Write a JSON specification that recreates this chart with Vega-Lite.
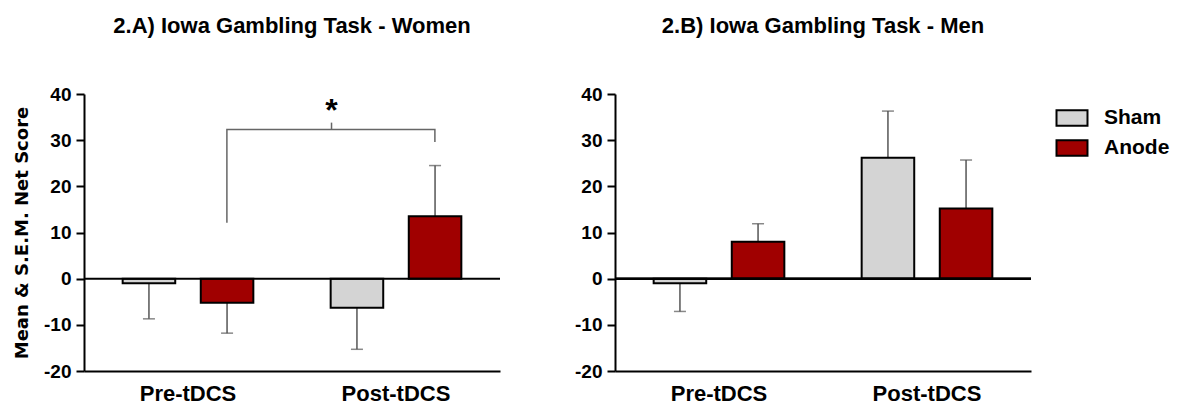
{
  "$schema": "https://vega.github.io/schema/vega-lite/v6.json",
  "background": "white",
  "padding": {"left": 13, "top": 15, "right": 0, "bottom": 0},
  "spacing": 73,
  "config": {
    "view": {"stroke": null},
    "font": "Liberation Sans",
    "axis": {"grid": false, "domainColor": "black", "domainWidth": 2, "tickColor": "black", "tickWidth": 2, "labelColor": "black", "labelFont": "Liberation Sans", "labelFontWeight": "bold", "titleColor": "black", "titleFont": "Liberation Sans", "titleFontWeight": "bold"},
    "title": {"font": "Liberation Sans", "fontWeight": "bold", "fontSize": 22, "color": "black", "frame": "group", "anchor": "middle", "offset": 47}
  },
  "resolve": {"scale": {"color": "independent"}, "legend": {"color": "independent"}},
  "hconcat": [
    {
      "width": 416,
      "height": 277,
      "title": {"text": "2.A) Iowa Gambling Task - Women"},
      "layer": [
        {
          "data": {"values": [
            {"phase": "Pre-tDCS", "group": "Sham", "mean": -1.0, "err": -8.7},
            {"phase": "Pre-tDCS", "group": "Anode", "mean": -5.2, "err": -11.8},
            {"phase": "Post-tDCS", "group": "Sham", "mean": -6.3, "err": -15.3},
            {"phase": "Post-tDCS", "group": "Anode", "mean": 13.5, "err": 24.5}
          ]},
          "layer": [
            {
              "mark": {"type": "rule", "color": "#555555", "strokeWidth": 1.5},
              "encoding": {
                "x": {"field": "phase", "type": "nominal", "sort": ["Pre-tDCS", "Post-tDCS"], "scale": {"domain": ["Pre-tDCS", "Post-tDCS"], "paddingInner": 0, "paddingOuter": 0}, "axis": {"title": null, "labelAngle": 0, "labelFontSize": 22, "labelPadding": 12, "ticks": false}},
                "xOffset": {"field": "group", "type": "nominal", "sort": ["Sham", "Anode"], "scale": {"domain": ["Sham", "Anode"], "paddingInner": 0.327, "paddingOuter": 0.495}},
                "y": {"field": "mean", "type": "quantitative", "scale": {"domain": [-20, 40], "nice": false, "zero": false}, "axis": {"values": [-20, -10, 0, 10, 20, 30, 40], "labelExpr": "datum.value + ''", "title": "Mean & S.E.M. Net Score", "titleFont": "DejaVu Sans", "titleFontSize": 18, "titlePadding": 12, "labelFontSize": 19, "tickSize": 8, "labelPadding": 5}},
                "y2": {"field": "err"}
              }
            },
            {
              "mark": {"type": "tick", "color": "#555555", "size": 12, "thickness": 1.5},
              "encoding": {
                "x": {"field": "phase", "type": "nominal", "sort": ["Pre-tDCS", "Post-tDCS"]},
                "xOffset": {"field": "group", "type": "nominal", "sort": ["Sham", "Anode"]},
                "y": {"field": "err", "type": "quantitative"}
              }
            },
            {
              "mark": {"type": "bar", "stroke": "black", "strokeWidth": 2},
              "encoding": {
                "x": {"field": "phase", "type": "nominal", "sort": ["Pre-tDCS", "Post-tDCS"]},
                "xOffset": {"field": "group", "type": "nominal", "sort": ["Sham", "Anode"]},
                "y": {"field": "mean", "type": "quantitative"},
                "color": {"field": "group", "type": "nominal", "scale": {"domain": ["Sham", "Anode"], "range": ["#d4d4d4", "#a00000"]}, "legend": null}
              }
            }
          ]
        },
        {
          "data": {"values": [{"zero": 0}]},
          "mark": {"type": "rule", "color": "black", "strokeWidth": 2},
          "encoding": {"y": {"field": "zero", "type": "quantitative"}}
        },
        {
          "data": {"values": [
            {"phase": "Pre-tDCS", "value": 12.1, "k": 1},
            {"phase": "Pre-tDCS", "value": 32.3, "k": 2},
            {"phase": "Post-tDCS", "value": 32.3, "k": 3},
            {"phase": "Post-tDCS", "value": 29.6, "k": 4}
          ]},
          "mark": {"type": "line", "color": "#666666", "strokeWidth": 1.5},
          "encoding": {
            "x": {"field": "phase", "type": "nominal", "sort": ["Pre-tDCS", "Post-tDCS"], "bandPosition": 0.687},
            "y": {"field": "value", "type": "quantitative"},
            "order": {"field": "k", "type": "quantitative"}
          }
        },
        {
          "data": {"values": [
            {"phase": "Post-tDCS", "value": 32.3, "value2": 33.8, "star": 34.2, "label": "*"}
          ]},
          "layer": [
            {
              "mark": {"type": "rule", "color": "#666666", "strokeWidth": 1.5},
              "encoding": {
                "x": {"field": "phase", "type": "nominal", "sort": ["Pre-tDCS", "Post-tDCS"], "bandPosition": 0.19},
                "y": {"field": "value", "type": "quantitative"},
                "y2": {"field": "value2"}
              }
            },
            {
              "mark": {"type": "text", "fontSize": 32, "fontWeight": "bold", "font": "Liberation Sans", "color": "black", "baseline": "alphabetic", "align": "center"},
              "encoding": {
                "x": {"field": "phase", "type": "nominal", "sort": ["Pre-tDCS", "Post-tDCS"], "bandPosition": 0.19},
                "y": {"field": "star", "type": "quantitative"},
                "text": {"field": "label"}
              }
            }
          ]
        }
      ]
    },
    {
      "width": 416,
      "height": 277,
      "title": {"text": "2.B) Iowa Gambling Task - Men"},
      "data": {"values": [
        {"phase": "Pre-tDCS", "group": "Sham", "mean": -1.0, "err": -7.1},
        {"phase": "Pre-tDCS", "group": "Anode", "mean": 8.0, "err": 11.9},
        {"phase": "Post-tDCS", "group": "Sham", "mean": 26.2, "err": 36.3},
        {"phase": "Post-tDCS", "group": "Anode", "mean": 15.2, "err": 25.7}
      ]},
      "layer": [
        {
          "mark": {"type": "rule", "color": "#555555", "strokeWidth": 1.5},
          "encoding": {
            "x": {"field": "phase", "type": "nominal", "sort": ["Pre-tDCS", "Post-tDCS"], "scale": {"domain": ["Pre-tDCS", "Post-tDCS"], "paddingInner": 0, "paddingOuter": 0}, "axis": {"title": null, "labelAngle": 0, "labelFontSize": 22, "labelPadding": 12, "ticks": false}},
            "xOffset": {"field": "group", "type": "nominal", "sort": ["Sham", "Anode"], "scale": {"domain": ["Sham", "Anode"], "paddingInner": 0.327, "paddingOuter": 0.495}},
            "y": {"field": "mean", "type": "quantitative", "scale": {"domain": [-20, 40], "nice": false, "zero": false}, "axis": {"values": [-20, -10, 0, 10, 20, 30, 40], "labelExpr": "datum.value + ''", "title": null, "labelFontSize": 19, "tickSize": 8, "labelPadding": 5}},
            "y2": {"field": "err"}
          }
        },
        {
          "mark": {"type": "tick", "color": "#555555", "size": 12, "thickness": 1.5},
          "encoding": {
            "x": {"field": "phase", "type": "nominal", "sort": ["Pre-tDCS", "Post-tDCS"]},
            "xOffset": {"field": "group", "type": "nominal", "sort": ["Sham", "Anode"]},
            "y": {"field": "err", "type": "quantitative"}
          }
        },
        {
          "mark": {"type": "bar", "stroke": "black", "strokeWidth": 2},
          "encoding": {
            "x": {"field": "phase", "type": "nominal", "sort": ["Pre-tDCS", "Post-tDCS"]},
            "xOffset": {"field": "group", "type": "nominal", "sort": ["Sham", "Anode"]},
            "y": {"field": "mean", "type": "quantitative"},
            "color": {"field": "group", "type": "nominal", "scale": {"domain": ["Sham", "Anode"], "range": ["#d4d4d4", "#a00000"]}, "legend": {"title": null, "orient": "none", "legendX": 443, "legendY": 10, "padding": 0, "symbolType": "M-1.2,-0.6H1.2V0.6H-1.2Z", "symbolSize": 667, "symbolStrokeColor": "black", "symbolStrokeWidth": 2, "symbolOpacity": 1, "labelFont": "Liberation Sans", "labelFontWeight": "bold", "labelFontSize": 21, "labelColor": "black", "labelOffset": 18, "rowPadding": 4}}
          }
        },
        {
          "mark": {"type": "rule", "color": "black", "strokeWidth": 2},
          "encoding": {"y": {"datum": 0, "type": "quantitative"}}
        }
      ]
    }
  ]
}
